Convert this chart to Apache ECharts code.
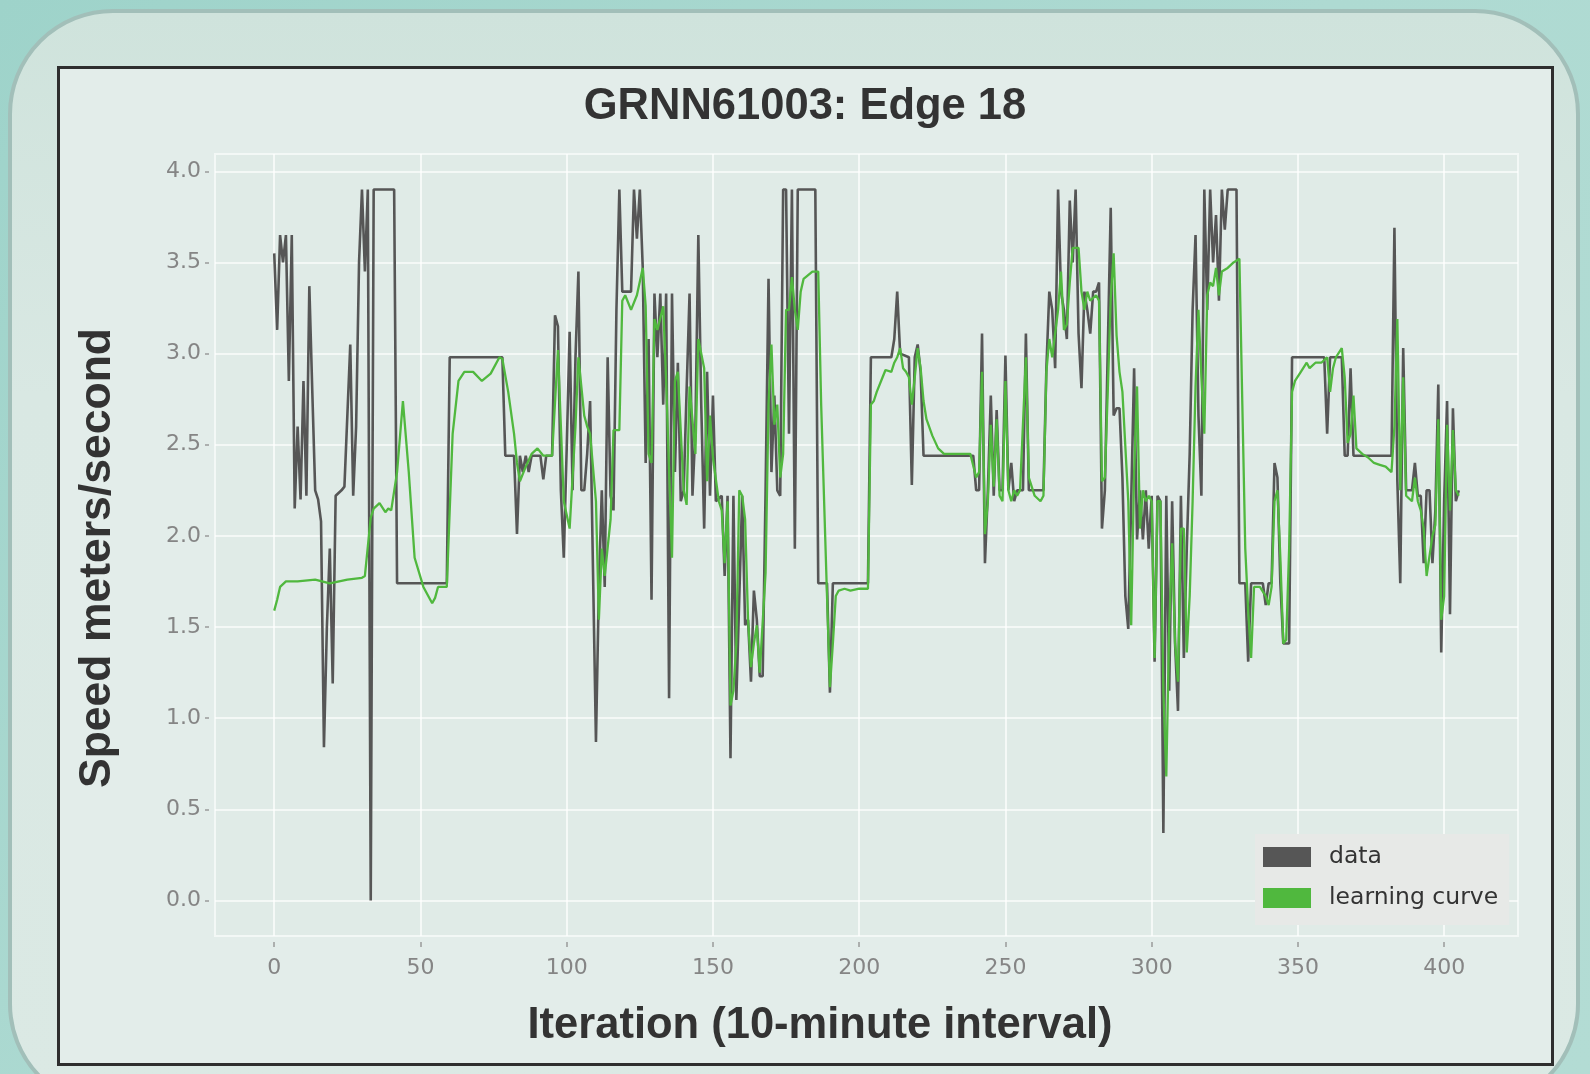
<!DOCTYPE html>
<html>
<head>
<meta charset="utf-8">
<script src="https://cdn.jsdelivr.net/npm/echarts@6/dist/echarts.min.js"></script>
<style>
  html, body { margin: 0; padding: 0; }
  body { width: 1590px; height: 1074px; overflow: hidden; position: relative;
         background: linear-gradient(135deg, #9ed3ca 0%, #aedad2 50%, #b3dcd4 100%); }
  .panel { position: absolute; left: 8px; top: 9px; width: 1572px; height: 1100px;
           box-sizing: border-box; border-radius: 105px; border: 4px solid #a2bfb9;
           background: linear-gradient(180deg, #cfe3dc 0%, #d9e8e3 35%, #dbe9e4 100%); }
  .frame { position: absolute; left: 57px; top: 66px; width: 1497px; height: 1000px;
           box-sizing: border-box; border: 3px solid #2e2e2e; background: #e3edea; }
  #chart { position: absolute; left: 0; top: 0; width: 1590px; height: 1074px; }
</style>
</head>
<body>
<div class="panel"></div>
<div class="frame"></div>
<div id="chart"></div>
<script>
// ---- data (iteration, speed) ----
const dataX = [0,1,2,3,4,5,6,7,8,9,10,11,12,13,14,15,16,17,18,19,20,21,23,24,26,27,28,29,30,31,32,33,34,41,42,59,60,78,79,82,83,84,85,86,87,88,91,92,93,95,96,97,98,99,100,101,102,103,104,105,106,107,108,109,110,111,112,113,114,115,116,117,118,119,122,123,124,125,126,127,128,129,130,131,132,133,134,135,136,137,138,139,140,141,142,143,144,145,146,147,148,149,150,151,153,154,155,156,157,158,160,161,162,163,164,165,166,167,168,169,170,171,172,173,174,175,176,177,178,179,185,186,189,190,191,203,204,211,212,213,214,217,218,219,220,221,222,239,240,241,242,243,244,245,246,247,248,249,250,251,252,253,254,256,257,258,263,264,265,266,267,268,269,270,271,272,273,274,275,276,277,278,279,280,281,282,283,284,285,286,287,288,289,290,291,292,293,294,295,296,297,298,299,300,301,302,303,304,305,306,307,308,309,310,311,312,313,314,315,316,317,318,319,320,321,322,323,324,325,326,329,330,332,333,334,338,339,340,341,342,343,344,345,347,348,359,360,361,365,366,367,368,369,382,383,384,385,386,387,389,390,391,392,393,394,395,396,397,398,399,400,401,402,403,404,405];
const dataY = [3.55,3.13,3.65,3.5,3.65,2.85,3.65,2.15,2.6,2.2,2.85,2.22,3.37,2.8,2.25,2.2,2.08,0.84,1.5,1.93,1.19,2.22,2.25,2.27,3.05,2.22,2.6,3.5,3.9,3.45,3.9,0,3.9,3.9,1.74,1.74,2.98,2.98,2.44,2.44,2.01,2.44,2.35,2.44,2.35,2.44,2.44,2.31,2.44,2.44,3.21,3.15,2.25,1.88,2.48,3.12,2.25,2.98,3.45,2.25,2.25,2.45,2.74,1.8,0.87,1.72,2.25,1.72,2.98,2.22,2.14,3.24,3.9,3.34,3.34,3.9,3.63,3.9,3.47,2.4,3.08,1.65,3.33,2.98,3.33,2.72,3.33,1.11,3.33,2.35,2.95,2.19,2.25,2.8,3.33,2.22,2.58,3.65,2.72,2.04,2.9,2.22,2.77,2.19,2.22,1.78,2.22,0.78,2.22,1.1,2.22,1.51,1.54,1.2,1.7,1.54,1.23,1.23,2.25,3.41,2.35,2.77,2.25,2.22,3.9,3.9,2.56,3.9,1.93,3.9,3.9,1.74,1.74,1.14,1.74,1.74,2.98,2.98,3.08,3.34,3.0,2.98,2.28,2.98,3.05,2.9,2.44,2.44,2.25,2.25,3.11,1.85,2.25,2.77,2.22,2.69,2.25,2.25,2.99,2.25,2.4,2.19,2.25,2.25,3.11,2.25,2.25,2.92,3.34,3.24,2.92,3.9,3.34,3.24,3.08,3.84,3.5,3.9,3.11,2.81,3.34,3.24,3.11,3.34,3.34,3.39,2.04,2.25,3.03,3.8,2.66,2.7,2.7,2.32,1.67,1.49,2.19,2.92,1.98,2.25,1.98,2.25,1.93,2.22,1.31,2.22,2.19,0.37,2.22,1.15,2.19,1.41,1.04,2.22,1.33,1.93,2.45,3.24,3.65,2.66,2.22,3.9,3.24,3.9,3.5,3.76,3.29,3.9,3.68,3.9,3.9,1.74,1.74,1.31,1.74,1.74,1.62,1.74,1.74,2.4,2.32,1.74,1.41,1.41,2.98,2.98,2.56,2.98,2.98,2.44,2.44,2.92,2.44,2.44,3.69,2.3,1.74,3.03,2.25,2.25,2.4,2.22,2.22,1.85,2.25,2.25,1.85,2.14,2.83,1.36,2.19,2.74,1.57,2.7,2.19,2.25];

const curveX = [0,1,2,4,8,14,19,25,30,31,33,34,36,38,39,40,42,44,46,48,51,54,55,56,59,61,63,65,68,71,74,77,78,80,82,83,84,86,88,90,92,95,97,99,101,103,104,106,107,108,110,111,112,113,115,116,118,119,120,122,124,126,127,128,129,130,131,133,134,136,137,138,140,141,142,144,145,147,148,149,150,152,153,154,155,156,157,158,159,160,161,162,163,164,165,166,168,169,170,171,172,173,174,175,176,177,178,179,180,181,184,186,187,189,190,191,192,193,195,197,200,203,204,205,206,208,209,211,212,213,214,215,216,217,218,219,220,221,222,223,225,227,229,234,238,240,241,242,243,244,245,246,247,248,249,250,251,252,253,254,255,257,258,260,262,263,264,265,266,268,269,270,271,272,273,275,276,277,278,279,281,282,283,284,285,286,287,288,289,290,292,293,294,295,296,297,298,299,300,301,302,303,304,305,306,307,308,309,310,311,312,313,314,315,316,317,318,319,320,321,322,323,324,326,328,330,331,332,333,334,335,337,339,340,341,342,343,344,345,346,347,348,349,351,353,354,356,358,360,361,362,363,365,366,367,368,369,370,372,374,376,378,380,382,383,384,385,386,387,389,390,391,392,393,394,396,397,398,399,400,401,402,403,404,405];
const curveY = [1.59,1.65,1.72,1.75,1.75,1.76,1.74,1.76,1.77,1.78,2.1,2.15,2.18,2.13,2.15,2.14,2.35,2.74,2.35,1.88,1.72,1.63,1.66,1.72,1.72,2.56,2.85,2.9,2.9,2.85,2.89,2.98,2.97,2.79,2.56,2.4,2.3,2.38,2.45,2.48,2.44,2.44,3.02,2.19,2.04,2.6,2.98,2.66,2.6,2.56,2.19,1.54,1.93,1.78,2.09,2.58,2.58,3.29,3.32,3.24,3.32,3.47,3.26,2.45,2.4,3.19,3.13,3.26,2.85,1.88,2.85,2.9,2.25,2.17,2.82,2.45,3.08,2.92,2.3,2.66,2.43,2.19,2.14,1.85,2.19,1.07,1.15,1.41,2.25,2.22,2.09,1.54,1.28,1.41,1.51,1.25,1.8,2.72,3.05,2.61,2.72,2.32,2.45,3.24,3.24,3.42,3.24,3.13,3.34,3.41,3.45,3.45,2.72,1.67,1.17,1.41,1.67,1.7,1.71,1.7,1.71,1.71,2.72,2.74,2.79,2.87,2.91,2.9,2.95,2.98,3.03,2.92,2.9,2.87,2.72,2.87,3.03,2.92,2.74,2.64,2.55,2.48,2.45,2.45,2.45,2.32,2.35,2.9,2.01,2.19,2.61,2.27,2.64,2.22,2.19,2.85,2.25,2.19,2.25,2.22,2.25,2.98,2.32,2.22,2.19,2.22,2.9,3.08,2.98,3.24,3.45,3.13,3.16,3.39,3.58,3.58,3.34,3.24,3.34,3.29,3.32,3.29,2.3,2.32,2.8,3.3,3.55,3.1,2.9,2.79,2.19,1.51,2.35,2.82,2.04,2.25,2.19,2.22,2.19,1.33,2.19,2.19,1.15,0.68,1.51,1.96,1.41,1.2,2.04,2.04,1.36,1.67,2.19,2.82,3.24,2.87,2.56,3.32,3.39,3.37,3.47,3.32,3.45,3.47,3.5,3.52,2.72,1.93,1.59,1.33,1.72,1.72,1.67,1.62,1.72,2.19,2.25,1.88,1.41,1.43,1.93,2.79,2.85,2.9,2.95,2.92,2.95,2.95,2.98,2.79,2.92,2.98,3.03,2.87,2.51,2.56,2.77,2.48,2.45,2.43,2.4,2.39,2.38,2.35,2.6,3.19,2.25,2.87,2.22,2.19,2.32,2.19,2.14,2.04,1.78,2.0,2.06,2.64,1.54,1.67,2.61,2.14,2.58,2.25,2.22];

const xTicks = [0, 50, 100, 150, 200, 250, 300, 350, 400];
const yTicks = [0, 0.5, 1.0, 1.5, 2.0, 2.5, 3.0, 3.5, 4.0];
const seriesNames = ['data', 'learning curve'];
const titleText = 'GRNN61003: Edge 18';
const xTitle = 'Iteration (10-minute interval)';
const yTitle = 'Speed meters/second';

const chart = echarts.init(document.getElementById('chart'), null, { renderer: 'canvas' });
const tickFont = { fontFamily: 'DejaVu Sans', fontSize: 22, color: '#858585' };

chart.setOption({
  animation: false,
  backgroundColor: 'transparent',
  grid: {
    left: 215, right: 72, top: 154, bottom: 138,
    show: true, backgroundColor: '#e0ebe7', borderColor: '#f3f8f6', borderWidth: 2
  },
  xAxis: {
    type: 'value', min: -20.25, max: 425.25, offset: 6,
    axisLine: { show: false, onZero: false },
    axisTick: { show: true, length: 5, customValues: xTicks, lineStyle: { color: '#9a9a9a', width: 1.5 } },
    axisLabel: { customValues: xTicks, margin: 15, ...tickFont },
    splitLine: { show: true, lineStyle: { color: '#ffffff', width: 1.6, opacity: 0.85 } }
  },
  yAxis: {
    type: 'value', min: -0.195, max: 4.095, offset: 6,
    axisLine: { show: false, onZero: false },
    axisTick: { show: true, length: 4, customValues: yTicks, lineStyle: { color: '#9a9a9a', width: 1.5 } },
    axisLabel: { customValues: yTicks, margin: 8, formatter: v => v.toFixed(1), ...tickFont },
    splitLine: { show: true, lineStyle: { color: '#ffffff', width: 1.6, opacity: 0.85 } }
  },
  legend: {
    left: 1255, top: 834, orient: 'vertical',
    backgroundColor: '#e7e9e7', borderWidth: 0,
    padding: [11, 11, 15, 8], itemGap: 17,
    itemWidth: 48, itemHeight: 20, icon: 'rect',
    textStyle: { fontFamily: 'DejaVu Sans', fontSize: 23.5, color: '#333333', padding: [0, 0, 0, 13] },
    data: seriesNames
  },
  graphic: [
    { type: 'text', x: 805, y: 107, style: { text: titleText, font: 'bold 43.5px "Liberation Sans", Arial, sans-serif', fill: '#333333', textAlign: 'center', textVerticalAlign: 'middle' } },
    { type: 'text', x: 98, y: 558, rotation: Math.PI / 2, style: { text: yTitle, font: 'bold 44.5px "Liberation Sans", Arial, sans-serif', fill: '#333333', textAlign: 'center', textVerticalAlign: 'middle' } },
    { type: 'text', x: 820, y: 1026, style: { text: xTitle, font: 'bold 43.5px "Liberation Sans", Arial, sans-serif', fill: '#333333', textAlign: 'center', textVerticalAlign: 'middle' } }
  ],
  series: [
    {
      name: seriesNames[0], type: 'line', showSymbol: false, z: 2,
      data: dataX.map((x, i) => [x, dataY[i]]),
      lineStyle: { color: '#565656', width: 2.6 },
      itemStyle: { color: '#565656' }
    },
    {
      name: seriesNames[1], type: 'line', showSymbol: false, z: 3,
      data: curveX.map((x, i) => [x, curveY[i]]),
      lineStyle: { color: '#50b83e', width: 2.3 },
      itemStyle: { color: '#50b83e' }
    }
  ]
});
</script>
</body>
</html>
